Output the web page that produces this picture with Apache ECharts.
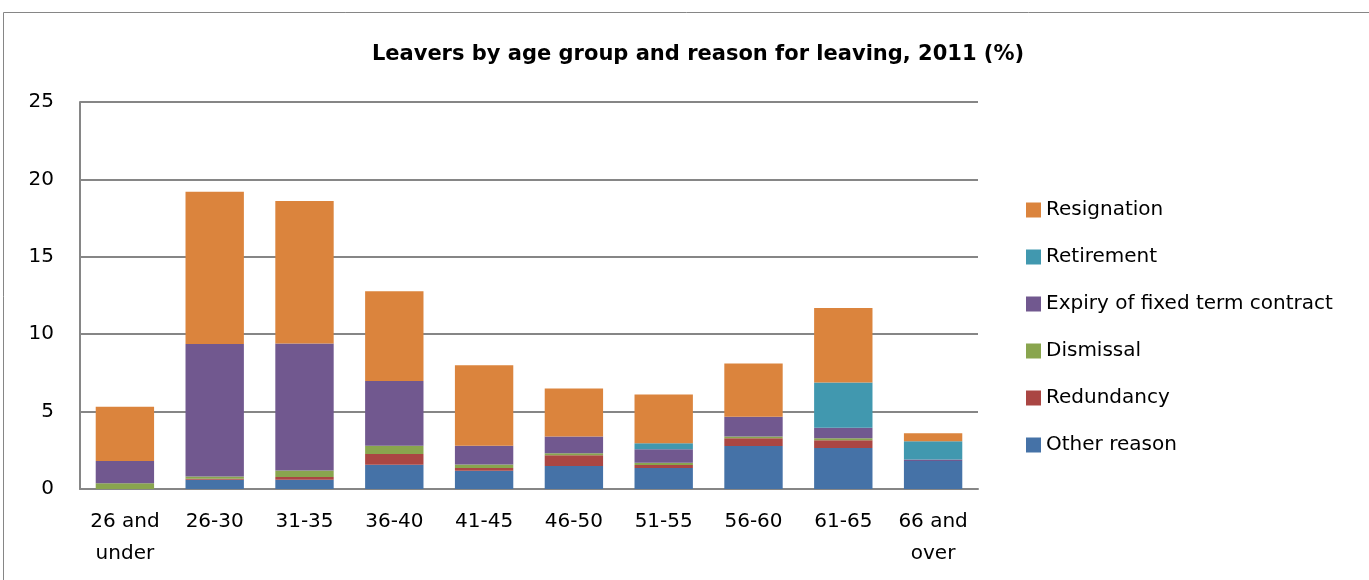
<!DOCTYPE html>
<html lang="en">
<head>
  <meta charset="UTF-8">
  <title>Leavers by age group</title>
  <style>
    html, body { width: 100%; height: 100%; padding: 0; margin: 0; background: #fff; }
    #eChart { width: 1369px; height: 580px; }
  </style>
</head>
<body>
  <div id="eChart"></div>
  <script src="https://cdn.jsdelivr.net/npm/echarts@6/dist/echarts.min.js"></script>
  <script>
    var ageGroups = ['26 and\nunder', '26-30', '31-35', '36-40', '41-45', '46-50', '51-55', '56-60', '61-65', '66 and\nover'];
    var otherReason = [0, 0.6, 0.6, 1.57, 1.18, 1.49, 1.36, 2.78, 2.65, 1.81];
    var redundancy = [0, 0.07, 0.17, 0.69, 0.17, 0.69, 0.19, 0.5, 0.5, 0];
    var dismissal = [0.37, 0.13, 0.43, 0.54, 0.24, 0.13, 0.15, 0.11, 0.13, 0];
    var expiry = [1.44, 8.57, 8.2, 4.18, 1.21, 1.08, 0.86, 1.27, 0.67, 0.09];
    var retirement = [0, 0, 0, 0, 0, 0, 0.39, 0, 2.93, 1.18];
    var resignation = [3.5, 9.83, 9.2, 5.8, 5.2, 3.1, 3.15, 3.44, 4.81, 0.52];

    var font = 'DejaVu Sans';
    var chart = echarts.init(document.getElementById('eChart'));

    function bar(name, data, color) {
      return {
        name: name,
        type: 'bar',
        stack: 'all',
        data: data,
        barCategoryGap: '35%',
        itemStyle: { color: color },
        emphasis: { disabled: true }
      };
    }

    chart.setOption({
      animation: false,
      textStyle: { fontFamily: font },
      title: {
        text: 'Leavers by age group and reason for leaving, 2011 (%)',
        left: 693,
        textAlign: 'center',
        top: 39,
        textStyle: { fontSize: 21, fontWeight: 'bold', color: '#000', fontFamily: font }
      },
      graphic: [{
        type: 'rect',
        shape: { x: 3.5, y: 12.5, width: 1380, height: 600 },
        style: { fill: 'none', stroke: '#868686', lineWidth: 1 },
        silent: true
      }],
      legend: {
        orient: 'vertical',
        left: 1021,
        top: 195,
        itemWidth: 15,
        itemHeight: 15,
        itemGap: 27,
        icon: 'rect',
        textStyle: { fontSize: 20, color: '#000', fontFamily: font },
        data: ['Resignation', 'Retirement', 'Expiry of fixed term contract', 'Dismissal', 'Redundancy', 'Other reason']
      },
      grid: { left: 80, right: 391, top: 102, bottom: 91 },
      xAxis: {
        type: 'category',
        data: ageGroups,
        axisLine: { lineStyle: { color: '#868686', width: 2 } },
        axisTick: { show: false },
        axisLabel: { interval: 0, fontSize: 20, color: '#000', margin: 17, lineHeight: 32 }
      },
      yAxis: {
        type: 'value',
        min: 0,
        max: 25,
        interval: 5,
        axisLine: { show: true, lineStyle: { color: '#868686', width: 2 } },
        axisTick: { show: false },
        splitLine: { lineStyle: { color: '#868686', width: 2 } },
        axisLabel: { fontSize: 20, color: '#000', margin: 26 }
      },
      series: [
        bar('Other reason', otherReason, '#4572A7'),
        bar('Redundancy', redundancy, '#AA4643'),
        bar('Dismissal', dismissal, '#89A54E'),
        bar('Expiry of fixed term contract', expiry, '#71588F'),
        bar('Retirement', retirement, '#4198AF'),
        bar('Resignation', resignation, '#DB843D')
      ]
    });
  </script>
</body>
</html>
